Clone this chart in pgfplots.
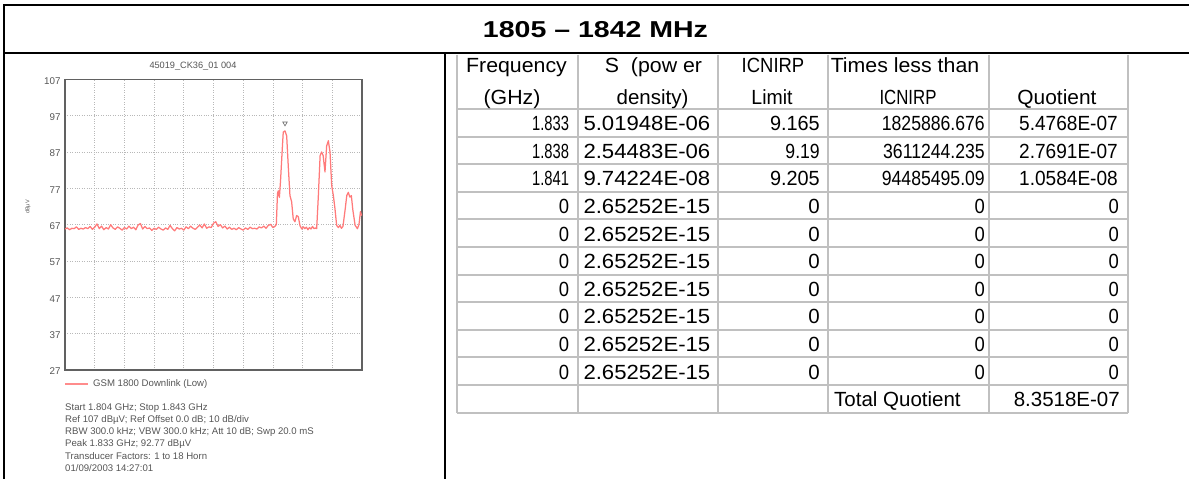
\documentclass[border=0pt]{standalone}
\usepackage{fontspec}
\setmainfont{Liberation Sans}
\usepackage{graphicx}
\usepackage{pgfplots}
\pgfplotsset{compat=1.18}
\definecolor{trace}{HTML}{FF7A7A}
\definecolor{legline}{HTML}{FF8C8C}
\definecolor{tgrid}{HTML}{C0C0C0}
\definecolor{ltext}{HTML}{555555}
\newcommand{\tf}{\fontsize{20.5bp}{24bp}\selectfont}
\newcommand{\sm}{\fontsize{9.6bp}{11bp}\selectfont}
\newcommand{\sx}[2]{\scalebox{#1}[1]{#2}}
\begin{document}
\begin{tikzpicture}
\useasboundingbox (0,0) rectangle (1189bp,-479bp);
\begin{scope}[x=1bp,y=-1bp]
% frame
\draw[line width=2.2bp] (4,5) -- (1189,5);
\draw[line width=2.2bp] (4,53.3) -- (1189,53.3);
\draw[line width=2.2bp] (4,4) -- (4,479);
\draw[line width=2.2bp] (445,53.3) -- (445,479);
\node[font=\fontsize{23bp}{26bp}\selectfont\bfseries, anchor=base, inner sep=0] at (595.5,37) {\sx{1.24}{1805 – 1842 MHz}};
% table grid
\foreach \k in {0,...,11} {\draw[tgrid, line width=2bp] (457,109+27.6*\k) -- (1128,109+27.6*\k);}
\foreach \x in {457,578,718,828,989,1128} {\draw[tgrid, line width=2bp] (\x,54.5) -- (\x,412.6);}
% header
\begin{scope}[every node/.style={anchor=base, inner sep=0, font=\tf}]
\node at (516.5,72) {\sx{1.04}{Frequency}};
\node at (512,104) {\sx{1.04}{(GHz)}};
\node at (653.5,72) {\sx{1.04}{S\ \ (pow er}};
\node at (652.5,104) {\sx{1.0}{density)}};
\node at (773,72) {\sx{0.9}{ICNIRP}};
\node at (772,104) {\sx{0.95}{Limit}};
\node at (905,72) {\sx{1.04}{Times less than}};
\node at (908,104) {\sx{0.82}{ICNIRP}};
\node at (1057,104) {\sx{1.02}{Quotient}};
\end{scope}
% data rows
\begin{scope}[every node/.style={inner sep=0, font=\tf}]
\node[anchor=base east] at (569.3,130.6) {\sx{0.72}{1.833}};
\node[anchor=base east] at (569.3,158.2) {\sx{0.72}{1.838}};
\node[anchor=base east] at (569.3,185.8) {\sx{0.72}{1.841}};
\node[anchor=base west] at (583.3,130.6) {\sx{1.08}{5.01948E-06}};
\node[anchor=base west] at (583.3,158.2) {\sx{1.08}{2.54483E-06}};
\node[anchor=base west] at (583.3,185.8) {\sx{1.08}{9.74224E-08}};
\node[anchor=base east] at (820,130.6) {\sx{0.97}{9.165}};
\node[anchor=base east] at (820,158.2) {\sx{0.86}{9.19}};
\node[anchor=base east] at (820,185.8) {\sx{0.97}{9.205}};
\node[anchor=base east] at (985,130.6) {\sx{0.86}{1825886.676}};
\node[anchor=base east] at (985,158.2) {\sx{0.86}{3611244.235}};
\node[anchor=base east] at (985,185.8) {\sx{0.86}{94485495.09}};
\node[anchor=base east] at (1118,130.6) {\sx{0.93}{5.4768E-07}};
\node[anchor=base east] at (1118,158.2) {\sx{0.93}{2.7691E-07}};
\node[anchor=base east] at (1118,185.8) {\sx{0.93}{1.0584E-08}};
\foreach \k in {3,...,9} {
  \node[anchor=base east] at (569.3,130.6+27.6*\k) {\sx{0.9}{0}};
  \node[anchor=base west] at (583.3,130.6+27.6*\k) {\sx{1.08}{2.65252E-15}};
  \node[anchor=base east] at (820,130.6+27.6*\k) {0};
  \node[anchor=base east] at (985,130.6+27.6*\k) {\sx{0.9}{0}};
  \node[anchor=base east] at (1119,130.6+27.6*\k) {\sx{0.9}{0}};
}
\node[anchor=base west] at (834,406.6) {Total Quotient};
\node[anchor=base east] at (1120,406.6) {8.3518E-07};
\end{scope}
% left panel texts
\begin{scope}[every node/.style={inner sep=0, text=ltext}]
\node[font=\fontsize{9.2bp}{10bp}\selectfont] at (193,66.7) {45019\_CK36\_01 004};
\node[font=\fontsize{5.5bp}{6bp}\selectfont, rotate=90] at (28,207) {dBµV};
\node[font=\sm, anchor=west] at (93,384) {GSM 1800 Downlink (Low)};
\node[font=\sm, anchor=west] at (65,407.7) {Start 1.804 GHz; Stop 1.843 GHz};
\node[font=\sm, anchor=west] at (65,419.9) {Ref 107 dBµV; Ref Offset 0.0 dB; 10 dB/div};
\node[font=\sm, anchor=west] at (65,432.1) {RBW 300.0 kHz; VBW 300.0 kHz; Att 10 dB; Swp 20.0 mS};
\node[font=\sm, anchor=west] at (65,444.3) {Peak 1.833 GHz; 92.77 dBµV};
\node[font=\sm, anchor=west] at (65,456.5) {Transducer Factors: 1 to 18 Horn};
\node[font=\sm, anchor=west] at (65,468.5) {01/09/2003 14:27:01};
\end{scope}
\fill[legline] (65,382.5) rectangle (88,384.5);
\end{scope}
\begin{axis}[
  at={(65bp,-370bp)}, anchor=south west,
  scale only axis, width=297bp, height=290.7bp,
  xmin=1804, xmax=1843, ymin=27, ymax=107,
  xtick={1804,1807.9,1811.8,1815.7,1819.6,1823.5,1827.4,1831.3,1835.2,1839.1,1843},
  xticklabels={},
  ytick={27,37,...,107},
  grid=major, major grid style={dotted, draw=black!28, line width=0.8bp},
  major tick length=0pt,
  axis line style={draw=black!62, line width=1.4bp},
  tick label style={font=\fontsize{9.8bp}{10bp}\selectfont, text=ltext},
  /pgf/number format/assume math mode=true,
  yticklabel style={yshift=-1.5bp, xshift=-1bp},
]
\addplot[trace, line width=1.25bp, line join=round] table {
1804.0 65.8
1804.3 66.1
1804.6 65.6
1804.9 66.0
1805.2 65.9
1805.5 66.4
1805.8 65.7
1806.1 66.0
1806.4 65.8
1806.7 66.2
1807.0 65.9
1807.3 66.5
1807.6 65.7
1807.9 66.3
1808.2 67.2
1808.5 65.9
1808.8 66.6
1809.1 65.6
1809.4 66.2
1809.7 65.8
1810.0 67.0
1810.3 66.1
1810.6 65.7
1810.9 66.4
1811.2 66.0
1811.5 65.5
1811.8 66.2
1812.1 65.8
1812.4 66.6
1812.7 65.9
1813.0 66.3
1813.3 65.6
1813.6 66.9
1813.9 67.3
1814.2 65.8
1814.5 66.5
1814.8 65.9
1815.1 66.1
1815.4 65.4
1815.7 66.0
1816.0 65.7
1816.3 66.3
1816.6 65.8
1816.9 65.5
1817.2 66.1
1817.5 65.7
1817.8 66.8
1818.1 65.9
1818.4 65.3
1818.7 66.2
1819.0 65.8
1819.3 66.0
1819.6 65.5
1819.9 66.4
1820.2 65.9
1820.5 66.6
1820.8 66.0
1821.1 65.7
1821.4 66.3
1821.7 66.9
1822.0 66.1
1822.3 67.2
1822.6 66.0
1822.9 66.4
1823.2 66.2
1823.5 67.4
1823.8 67.8
1824.1 66.5
1824.4 67.0
1824.7 66.1
1825.0 66.6
1825.3 65.8
1825.6 66.3
1825.9 65.7
1826.2 66.0
1826.5 65.6
1826.8 66.2
1827.1 65.8
1827.4 65.5
1827.7 66.1
1828.0 65.7
1828.3 66.3
1828.6 65.9
1828.9 66.0
1829.2 65.8
1829.5 66.4
1829.8 66.1
1830.1 66.6
1830.4 66.0
1830.7 66.8
1831.0 67.1
1831.3 66.2
1831.5 66.4
1831.75 67.0
1831.9 75.5
1832.0 76.3
1832.15 74.5
1832.3 79.0
1832.53 87.8
1832.66 92.5
1832.89 92.8
1833.11 91.4
1833.32 83.0
1833.54 75.0
1833.76 73.3
1833.97 68.6
1834.19 67.8
1834.42 69.5
1834.63 69.2
1834.86 66.7
1835.1 65.8
1835.3 66.4
1835.5 65.9
1835.7 66.3
1835.9 65.6
1836.1 66.2
1836.3 65.8
1836.5 66.5
1836.7 65.9
1836.9 66.1
1837.05 65.9
1837.27 75.0
1837.5 86.0
1837.7 87.0
1837.9 86.0
1838.14 81.5
1838.36 88.7
1838.58 90.1
1838.8 87.0
1839.02 77.8
1839.24 75.0
1839.45 71.4
1839.67 66.8
1839.9 66.2
1840.1 66.8
1840.3 66.0
1840.5 66.5
1840.8 71.4
1841.0 75.0
1841.2 75.9
1841.4 74.6
1841.6 75.0
1841.8 71.0
1842.1 66.8
1842.4 65.9
1842.6 67.0
1842.8 70.6
1842.9 69.8
1843.0 69.5
};
\addplot[only marks, mark=triangle, mark size=2.6bp, mark options={rotate=180, draw=black!60, line width=0.6bp}] coordinates {(1832.89,94.9)};
\end{axis}
\end{tikzpicture}
\end{document}
